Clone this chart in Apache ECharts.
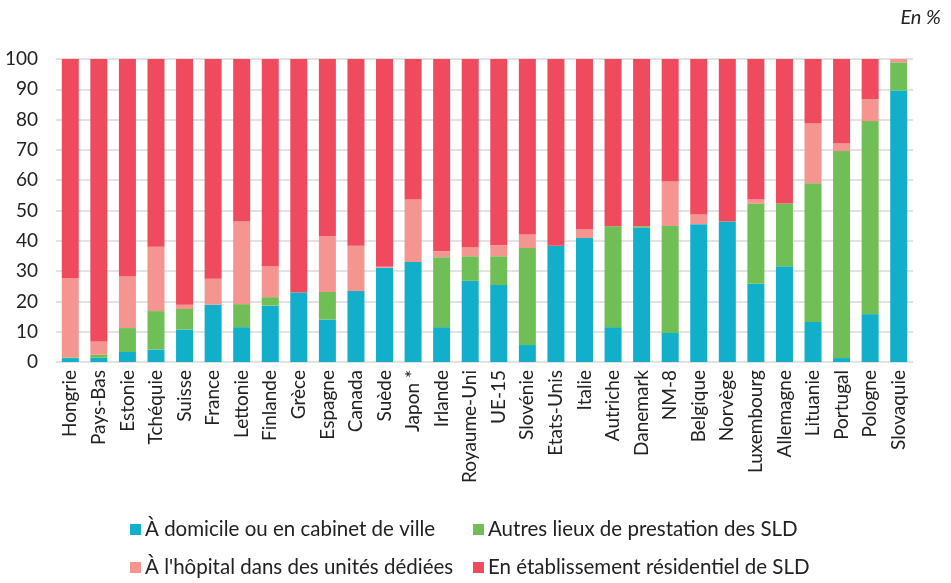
<!DOCTYPE html>
<html>
<head>
<meta charset="utf-8">
<script src="https://cdn.jsdelivr.net/npm/echarts@6/dist/echarts.min.js"></script>
<style>
html, body { margin: 0; padding: 0; background: #fff; }
#container { width: 951px; height: 583px; }
</style>
</head>
<body>
<div id="container"></div>
<script>
var countries = ['Hongrie', 'Pays-Bas', 'Estonie', 'Tchéquie', 'Suisse', 'France', 'Lettonie', 'Finlande', 'Grèce', 'Espagne',
    'Canada', 'Suède', 'Japon *', 'Irlande', 'Royaume-Uni', 'UE-15', 'Slovénie', 'Etats-Unis', 'Italie', 'Autriche',
    'Danemark', 'NM-8', 'Belgique', 'Norvège', 'Luxembourg', 'Allemagne', 'Lituanie', 'Portugal', 'Pologne', 'Slovaquie'];

// parts in %, the residential share is what's left to 100
var domicile = [1.3, 1.4, 3.3, 4.1, 10.7, 18.9, 11.5, 18.6, 22.9, 14.0,
    23.4, 31.1, 33.0, 11.5, 26.8, 25.4, 5.6, 38.4, 40.9, 11.5,
    44.3, 9.6, 45.5, 46.4, 25.8, 31.6, 13.2, 1.3, 15.8, 89.6];
var autres = [0.2, 1.0, 7.9, 12.7, 6.8, 0, 7.6, 2.8, 0, 9.1,
    0, 0, 0, 23.1, 8.1, 9.5, 32.0, 0, 0, 33.3,
    0.5, 35.3, 0, 0, 26.4, 20.7, 45.8, 68.3, 63.7, 9.3];
var hopital = [26.1, 4.4, 17.0, 21.2, 1.4, 8.6, 27.3, 10.1, 0, 18.5,
    15.0, 0.3, 20.6, 2.0, 3.0, 3.6, 4.5, 0, 2.8, 0,
    0, 14.7, 3.2, 0, 1.4, 0, 19.7, 2.5, 7.2, 1.1];
var residentiel = countries.map(function (c, i) {
    return +(100 - domicile[i] - autres[i] - hopital[i]).toFixed(1);
});

var yTicks = [0, 10, 20, 30, 40, 50, 60, 70, 80, 90, 100];

var names = ['À domicile ou en cabinet de ville', 'Autres lieux de prestation des SLD',
    "À l'hôpital dans des unités dédiées", 'En établissement résidentiel de SLD'];
var colors = ['#12afcb', '#70bf56', '#f4958f', '#ef4a5e'];
var values = [domicile, autres, hopital, residentiel];

var font = 'Lato';
var myChart = echarts.init(document.getElementById('container'));

var series = names.map(function (n, k) {
    return {
        name: n,
        type: 'bar',
        stack: 'total',
        barWidth: 17,
        data: values[k],
        itemStyle: { color: colors[k] }
    };
});

// legend laid out as a 2x2 grid, one legend per item
var legendPos = [[125, 514], [468, 514], [125, 552], [468, 552]];
var legends = names.map(function (n, k) {
    return {
        data: [n],
        left: legendPos[k][0],
        top: legendPos[k][1],
        itemWidth: 11,
        itemHeight: 11,
        itemGap: 0,
        icon: 'rect',
        textStyle: { fontFamily: font, fontSize: 20.5, color: '#222', padding: [0, 0, 0, -1] }
    };
});

var option = {
    animation: false,
    textStyle: { fontFamily: font },
    title: {
        text: 'En %',
        right: 5,
        top: 3,
        textStyle: { fontFamily: font, fontStyle: 'italic', fontWeight: 'normal', fontSize: 20, color: '#222' }
    },
    grid: { left: 56, right: 38, top: 59, bottom: 221, containLabel: false },
    legend: legends,
    xAxis: {
        type: 'category',
        data: countries,
        axisLine: { show: false },
        axisTick: { show: false },
        axisLabel: { rotate: 90, fontSize: 19, color: '#222', margin: 8, interval: 0, fontFamily: font }
    },
    yAxis: {
        type: 'value',
        min: yTicks[0],
        max: yTicks[yTicks.length - 1],
        interval: 10,
        axisLine: { show: false },
        axisTick: { show: false },
        axisLabel: { fontSize: 19, color: '#222', margin: 18, fontFamily: font },
        splitLine: { lineStyle: { color: '#d9d9d9', width: 1.5 } }
    },
    series: series
};

myChart.setOption(option, true);
</script>
</body>
</html>
